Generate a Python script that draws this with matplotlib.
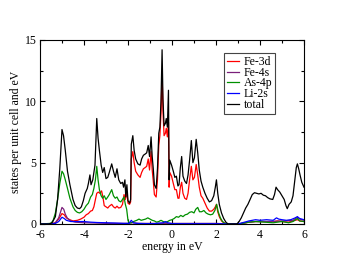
import matplotlib
matplotlib.use("Agg")
import matplotlib.pyplot as plt
from matplotlib.ticker import MultipleLocator

# energy (eV) / DOS key points, one pair per series
e_fe3d = [-6.0, -5.5, -5.3, -5.15, -5.0, -4.9, -4.8, -4.65, -4.5, -4.3, -4.15, -4.0, -3.9, -3.8,
          -3.7, -3.62, -3.55, -3.48, -3.42, -3.35, -3.28, -3.2, -3.14, -3.08, -3.0, -2.92, -2.85,
          -2.74, -2.66, -2.58, -2.5, -2.42, -2.33, -2.25, -2.18, -2.12, -2.05, -2.0, -1.93, -1.88,
          -1.85, -1.78, -1.72, -1.65, -1.55, -1.45, -1.38, -1.3, -1.22, -1.15, -1.08, -1.02, -0.95,
          -0.9, -0.85, -0.8, -0.72, -0.66, -0.6, -0.55, -0.5, -0.45, -0.41, -0.36, -0.3, -0.26,
          -0.21, -0.16, -0.13, -0.1, -0.02, 0.06, 0.13, 0.2, 0.27, 0.32, 0.38, 0.44, 0.5, 0.58,
          0.66, 0.73, 0.8, 0.88, 0.95, 1.02, 1.1, 1.17, 1.24, 1.32, 1.4, 1.5, 1.6, 1.7, 1.8, 1.9,
          1.97, 2.02, 2.08, 2.15, 2.25, 2.35, 2.5, 3.0, 3.2, 3.5, 3.8, 4.2, 4.6, 4.8, 5.0, 5.3,
          5.5, 5.7, 5.8, 6.0]
dos_fe3d = [0, 0, 0.1, 0.4, 0.85, 0.75, 0.5, 0.35, 0.25, 0.3, 0.4, 0.55, 0.75, 0.85,
            1.05, 1.1, 1.4, 2.0, 2.5, 2.6, 2.5, 2.7, 2.2, 1.5, 1.4, 1.3, 1.45,
            1.6, 1.4, 1.3, 1.45, 1.3, 1.35, 1.6, 2.4, 2.0, 2.6, 1.7, 1.6, 1.8,
            5.3, 5.9, 5.0, 4.3, 4.0, 3.8, 4.2, 4.5, 4.6, 4.7, 5.3, 4.4, 5.9,
            4.4, 3.5, 2.4, 2.2, 3.6, 6.4, 7.2, 9.0, 12.2, 9.2, 7.2, 7.4, 7.8,
            7.1, 8.3, 3.0, 4.2, 3.9, 3.3, 2.8, 2.8, 2.1, 2.1, 3.0, 3.4, 2.5, 2.1,
            2.0, 2.5, 3.6, 4.7, 3.6, 3.8, 4.85, 4.0, 3.0, 2.3, 2.1, 1.7, 1.3, 1.05, 1.05, 1.2,
            1.4, 1.6, 1.0, 0.6, 0.25, 0.1, 0, 0, 0.05, 0.15, 0.2, 0.2, 0.2, 0.25, 0.2, 0.15,
            0.25, 0.35, 0.25, 0.2]

e_fe4s = [-6.0, -5.5, -5.3, -5.15, -5.0, -4.92, -4.85, -4.75, -4.6, -4.4, -4.0, -3.5, -3.0,
          -2.5, -2.0, -1.8, -1.5, -1.0, -0.5, 0.0, 1.0, 2.0, 2.5, 3.0, 3.3, 3.8, 4.5, 5.0,
          5.5, 5.7, 5.8, 6.0]
dos_fe4s = [0, 0, 0.1, 0.5, 1.35, 1.2, 0.8, 0.45, 0.25, 0.15, 0.1, 0.08, 0.05,
            0.05, 0.05, 0.1, 0.05, 0.05, 0.05, 0.05, 0.05, 0.05, 0, 0, 0.1, 0.2, 0.2, 0.25,
            0.3, 0.55, 0.4, 0.3]

e_as4p = [-6.0, -5.5, -5.4, -5.3, -5.2, -5.1, -5.0, -4.93, -4.85, -4.75, -4.64, -4.5, -4.4,
          -4.3, -4.2, -4.1, -4.0, -3.9, -3.8, -3.7, -3.62, -3.55, -3.48, -3.42, -3.36, -3.3,
          -3.22, -3.15, -3.08, -3.0, -2.92, -2.85, -2.74, -2.66, -2.58, -2.5, -2.42, -2.33,
          -2.25, -2.18, -2.12, -2.06, -2.0, -1.95, -1.85, -1.75, -1.6, -1.5, -1.4, -1.3, -1.2,
          -1.1, -1.0, -0.9, -0.8, -0.7, -0.6, -0.5, -0.4, -0.3, -0.2, -0.1, 0.0, 0.1, 0.2,
          0.3, 0.4, 0.5, 0.6, 0.7, 0.8, 0.9, 1.0, 1.08, 1.17, 1.25, 1.35, 1.45, 1.55, 1.65,
          1.75, 1.85, 1.95, 2.03, 2.1, 2.2, 2.3, 2.4, 2.5, 3.0, 3.2, 3.5, 3.8, 4.2, 4.6, 4.8,
          5.0, 5.3, 5.5, 5.7, 5.8, 6.0]
dos_as4p = [0, 0.05, 0.3, 0.9, 2.0, 3.3, 4.3, 4.1, 3.6, 2.9, 2.1, 1.4, 1.1,
            0.95, 0.9, 1.0, 1.2, 1.5, 1.7, 2.2, 2.4, 2.9, 3.6, 4.7, 3.6, 2.8,
            2.3, 2.1, 2.3, 2.0, 2.2, 2.4, 2.8, 2.3, 2.1, 2.2, 1.9, 1.8,
            2.0, 2.2, 1.6, 1.2, 0.3, 0.1, 0.1, 0.2, 0.3, 0.4, 0.3, 0.35, 0.4,
            0.5, 0.4, 0.3, 0.25, 0.15, 0.2, 0.3, 0.2, 0.15, 0.2, 0.3, 0.35, 0.45, 0.6,
            0.55, 0.7, 0.6, 0.75, 0.8, 0.95, 1.0, 0.9, 1.2, 1.35, 1.0, 1.0, 1.1, 0.9, 0.8,
            0.75, 0.8, 1.1, 1.6, 1.0, 0.5, 0.2, 0.05, 0, 0, 0.05, 0.15, 0.2, 0.15, 0.1, 0.15,
            0.2, 0.1, 0.2, 0.45, 0.25, 0.2]

e_li2s = [-6.0, -5.5, -5.3, -5.15, -5.0, -4.9, -4.8, -4.6, -4.3, -4.0, -3.7, -3.4, -3.0,
          -2.6, -2.2, -1.95, -1.85, -1.75, -1.6, -1.2, -0.8, -0.4, -0.3, -0.2, 0.0, 0.5, 1.0,
          2.0, 2.5, 3.0, 3.2, 3.5, 3.8, 4.0, 4.3, 4.6, 4.75, 4.85, 5.0, 5.2, 5.4, 5.6, 5.7,
          5.8, 6.0]
dos_li2s = [0, 0, 0.05, 0.2, 0.55, 0.45, 0.3, 0.2, 0.2, 0.2, 0.15, 0.12, 0.1,
            0.08, 0.05, 0.05, 0.3, 0.1, 0.05, 0.03, 0.03, 0.1, 0.2, 0.1, 0.03, 0.02, 0.02,
            0.02, 0, 0, 0.1, 0.25, 0.35, 0.3, 0.35, 0.3, 0.5, 0.4, 0.35, 0.3, 0.35, 0.5, 0.6,
            0.45, 0.35]

e_total = [-6.0, -5.6, -5.45, -5.3, -5.2, -5.1, -5.0, -4.93, -4.85, -4.75, -4.64, -4.5, -4.4,
           -4.3, -4.2, -4.12, -4.03, -3.95, -3.85, -3.8, -3.73, -3.68, -3.6, -3.5, -3.42, -3.36,
           -3.3, -3.22, -3.15, -3.08, -3.0, -2.92, -2.85, -2.74, -2.66, -2.58, -2.5, -2.42,
           -2.33, -2.25, -2.2, -2.14, -2.1, -2.05, -2.0, -1.93, -1.88, -1.85, -1.78, -1.72,
           -1.65, -1.55, -1.45, -1.38, -1.3, -1.22, -1.15, -1.08, -1.02, -0.95, -0.9, -0.85,
           -0.8, -0.72, -0.66, -0.6, -0.55, -0.5, -0.45, -0.41, -0.36, -0.3, -0.26, -0.21,
           -0.16, -0.13, -0.1, -0.02, 0.06, 0.13, 0.2, 0.27, 0.32, 0.38, 0.44, 0.5, 0.58, 0.66,
           0.73, 0.8, 0.88, 0.95, 1.02, 1.1, 1.17, 1.24, 1.32, 1.4, 1.5, 1.6, 1.7, 1.8, 1.9,
           1.97, 2.02, 2.08, 2.15, 2.25, 2.35, 2.45, 2.55, 2.95, 3.05, 3.15, 3.25, 3.35, 3.45,
           3.55, 3.65, 3.75, 3.85, 3.95, 4.05, 4.15, 4.25, 4.35, 4.45, 4.58, 4.66, 4.73, 4.8,
           4.9, 5.0, 5.1, 5.18, 5.24, 5.32, 5.42, 5.5, 5.58, 5.65, 5.7, 5.76, 5.82, 5.9, 6.0]
dos_total = [0, 0, 0.1, 0.6, 2.0, 4.5, 7.7, 7.2, 6.0, 4.3, 3.2, 2.0, 1.5,
             1.3, 1.25, 1.4, 1.9, 2.5, 2.9, 3.3, 4.0, 3.2, 3.6, 4.8, 8.6, 7.0,
             6.0, 4.8, 4.2, 4.6, 3.7, 3.8, 4.2, 4.9, 4.3, 3.8, 4.5, 3.6,
             3.3, 3.4, 3.0, 3.6, 2.2, 3.2, 1.9, 1.7, 2.0, 6.5, 7.2, 6.0,
             5.3, 4.9, 4.8, 5.3, 5.6, 5.7, 5.8, 6.4, 5.5, 7.1, 5.5, 4.5,
             3.2, 2.9, 4.5, 7.4, 7.9, 10.0, 14.2, 10.2, 8.0, 8.2, 8.6, 7.9,
             10.9, 3.6, 5.2, 4.8, 4.3, 3.8, 3.9, 3.1, 3.2, 4.6, 5.5, 3.9, 3.5, 3.3,
             4.0, 5.2, 6.8, 5.0, 5.4, 6.9, 5.8, 4.4, 3.5, 3.0, 2.5, 2.1, 1.8, 1.9, 2.3,
             3.0, 3.6, 2.5, 1.6, 0.9, 0.45, 0.15, 0, 0, 0.2, 0.5, 0.9, 1.3, 1.6,
             2.0, 2.4, 2.55, 2.5, 2.45, 2.5, 2.35, 2.3, 2.15, 2.05, 2.0, 2.4, 3.0, 2.8,
             2.6, 2.3, 2.0, 1.5, 1.25, 1.6, 1.8, 2.3, 3.5, 4.6, 4.9, 4.5, 4.0, 3.4, 3.0]

labels = ["Fe-3d", "Fe-4s", "As-4p", "Li-2s", "total"]
colors = ["#ff0000", "#7a1f7a", "#009000", "#0000ff", "#000000"]


def main():
    plt.rcParams["font.family"] = ["Liberation Serif", "DejaVu Serif"]
    plt.rcParams["axes.unicode_minus"] = False

    fig = plt.figure(figsize=(3.52, 2.72), dpi=100)
    ax = fig.add_axes([0.1136, 0.1765, 0.75, 0.6765])

    series = [(e_fe3d, dos_fe3d), (e_fe4s, dos_fe4s), (e_as4p, dos_as4p),
              (e_li2s, dos_li2s), (e_total, dos_total)]
    for (e, d), lab, col in zip(series, labels, colors):
        ax.plot(e, d, color=col, lw=0.9, label=lab)

    ax.set_xlim(-6, 6)
    ax.set_ylim(0, 15)
    ax.xaxis.set_major_locator(MultipleLocator(2))
    ax.xaxis.set_minor_locator(MultipleLocator(1))
    ax.yaxis.set_major_locator(MultipleLocator(5))
    ax.yaxis.set_minor_locator(MultipleLocator(2.5))
    ax.tick_params(which="both", direction="in", top=True, right=True, labelsize=8.5,
                   width=0.8)
    ax.tick_params(axis="x", pad=3.5)
    ax.tick_params(axis="y", pad=2.5)
    ax.tick_params(which="major", length=3.5)
    ax.tick_params(which="minor", length=2)
    for sp in ax.spines.values():
        sp.set_linewidth(0.8)

    ax.set_xlabel("energy in eV", fontsize=8.5, labelpad=0)
    ax.set_ylabel("states per unit cell and eV", fontsize=8.5, labelpad=2)

    leg = ax.legend(loc="upper left", bbox_to_anchor=(0.697, 0.93), fontsize=8.5,
                    frameon=True, fancybox=False, edgecolor="#444444", framealpha=1,
                    handlelength=1.0, handletextpad=0.4, labelspacing=-0.1,
                    borderpad=0.25, borderaxespad=0)
    leg.get_frame().set_linewidth(0.8)

    fig.savefig("out.png", dpi=100)
    plt.close(fig)


if __name__ == "__main__":
    main()
